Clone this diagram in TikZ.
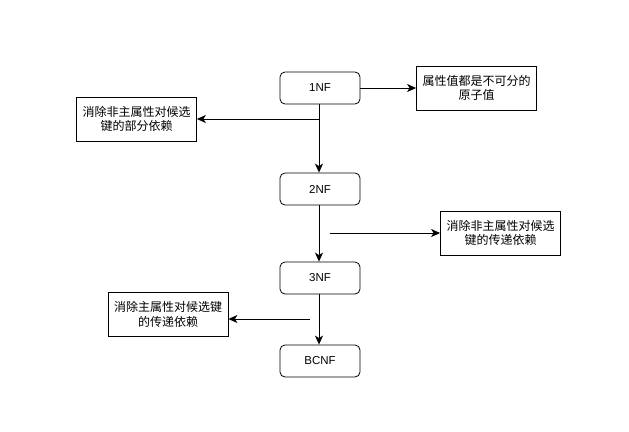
\documentclass[tikz,border=0pt]{standalone}
\usepackage{fontspec}
\setsansfont{Liberation Sans}
\newfontfamily\cjk{Noto Sans CJK SC}
\usetikzlibrary{arrows.meta}

\tikzset{
  NFStyle/.style = {draw, line width=0.8pt, rounded corners=5pt, minimum width=80pt, minimum height=32pt,
                    inner sep=0pt, font=\sffamily\fontsize{11.5}{13}\selectfont},
  NoteStyle/.style = {draw, line width=0.8pt, minimum width=120pt, minimum height=44pt, inner sep=0pt,
                      align=center, font=\cjk\fontsize{12}{14.5}\selectfont},
  EdgeStyle/.style = {line width=0.9pt, -{Stealth[length=9pt,width=8pt,inset=2.5pt]}}
}

\begin{document}
\begin{tikzpicture}[x=1pt,y=-1pt]
          \useasboundingbox (0,0) rectangle (629,431);
          % normal forms
          \node[NFStyle] (nf1) at (320,88) {1NF};
          \node[NFStyle] (nf2) at (320,189) {2NF};
          \node[NFStyle] (nf3) at (320,278) {3NF};
          \node[NFStyle] (bcnf) at (320,361) {BCNF};

          % notes
          \node[NoteStyle] (atomic) at (476.5,88) {属性值都是不可分的\\原子值};
          \node[NoteStyle] (partial) at (136.5,119) {消除非主属性对候选\\键的部分依赖};
          \node[NoteStyle] (transit) at (500.5,233) {消除非主属性对候选\\键的传递依赖};
          \node[NoteStyle] (mainkey) at (168,314.5) {消除主属性对候选键\\的传递依赖};

          \coordinate (p1) at (319,119);
          \coordinate (p2) at (330,233);
          \coordinate (p3) at (310,319);

          \draw[EdgeStyle] (nf1.south -| p1) -- (nf2.north -| p1);
          \draw[EdgeStyle] (nf2.south -| p1) -- (nf3.north -| p1);
          \draw[EdgeStyle] (nf3.south -| p1) -- (bcnf.north -| p1);

          % side notes
          \draw[EdgeStyle] (nf1) -- (atomic);
          \draw[EdgeStyle] (p1) -- (p1 -| partial.east);
          \draw[EdgeStyle] (p2) -- (p2 -| transit.west);
          \draw[EdgeStyle] (p3) -- (p3 -| mainkey.east);
\end{tikzpicture}
\end{document}
